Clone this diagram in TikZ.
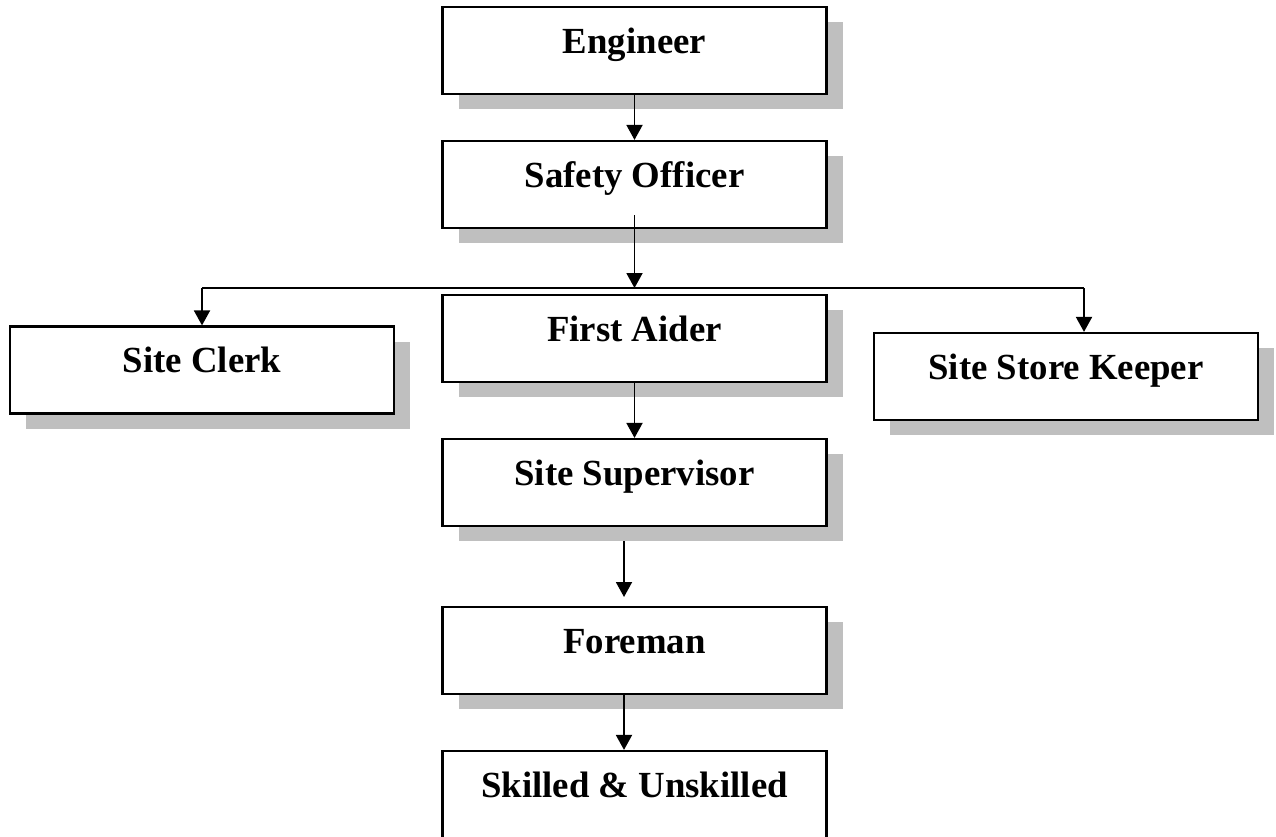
\documentclass[tikz,border=0pt]{standalone}
\usepackage{fontspec}
\setmainfont{Liberation Serif}
\usetikzlibrary{arrows.meta, shadows}

\begin{document}
\begin{tikzpicture}[x=1pt, y=-1pt,
		rolebox/.style={draw, line width=2.2pt, fill=white, minimum width=384pt, inner sep=0pt,
			text height=46pt, text depth=41pt, font=\fontsize{36.8}{40}\selectfont\bfseries},
		castshadow/.style={drop shadow={fill=black!25, opacity=1, shadow xshift=16pt, shadow yshift=-15pt}},
		link/.style={-{Triangle[width=16pt, length=15pt]}, line width=1.9pt}]
	
	\clip (0,0) rectangle (1276,836);
	
	%--- Main chain ---
	\node[rolebox, castshadow] (engineer) at (634.5,50.5) {Engineer};
	\node[rolebox, castshadow] (safety) at (634.5,184.5) {Safety Officer};
	\node[rolebox, castshadow] (firstaider) at (634.5,338.5) {First Aider};
	\node[rolebox, castshadow] (supervisor) at (634.5,482.5) {Site Supervisor};
	\node[rolebox, castshadow] (foreman) at (634.5,650.5) {Foreman};
	\node[rolebox] (skilled) at (634.5,794.5) {Skilled \& Unskilled};
	
	%--- Side posts ---
	\node[rolebox, castshadow] (clerk) at (202,370) {Site Clerk};
	\node[rolebox, castshadow] (storekeeper) at (1066,376.5) {Site Store Keeper};
	
	%--- Branch bar ---
	\coordinate (busleft) at (202,288);
	\coordinate (busmid) at (634.5,288);
	\coordinate (busright) at (1084,288);
	\coordinate (gaptop) at (624,541);
	\coordinate (gapend) at (624,597);
	
	\draw[link] (engineer.south) -- (safety.north);
	\draw[link] ([yshift=14pt]safety.south) -- (busmid);
	\draw[line width=1.9pt] (busleft) -- (busright);
	\draw[link] (busleft) -- (clerk.north);
	\draw[link] (busright) -- (busright |- storekeeper.north);
	\draw[link] (firstaider.south) -- (supervisor.north);
	\draw[link] (gaptop) -- (gapend);
	\draw[link] ([xshift=-10.5pt]foreman.south) -- ([xshift=-10.5pt]skilled.north);
\end{tikzpicture}
\end{document}
